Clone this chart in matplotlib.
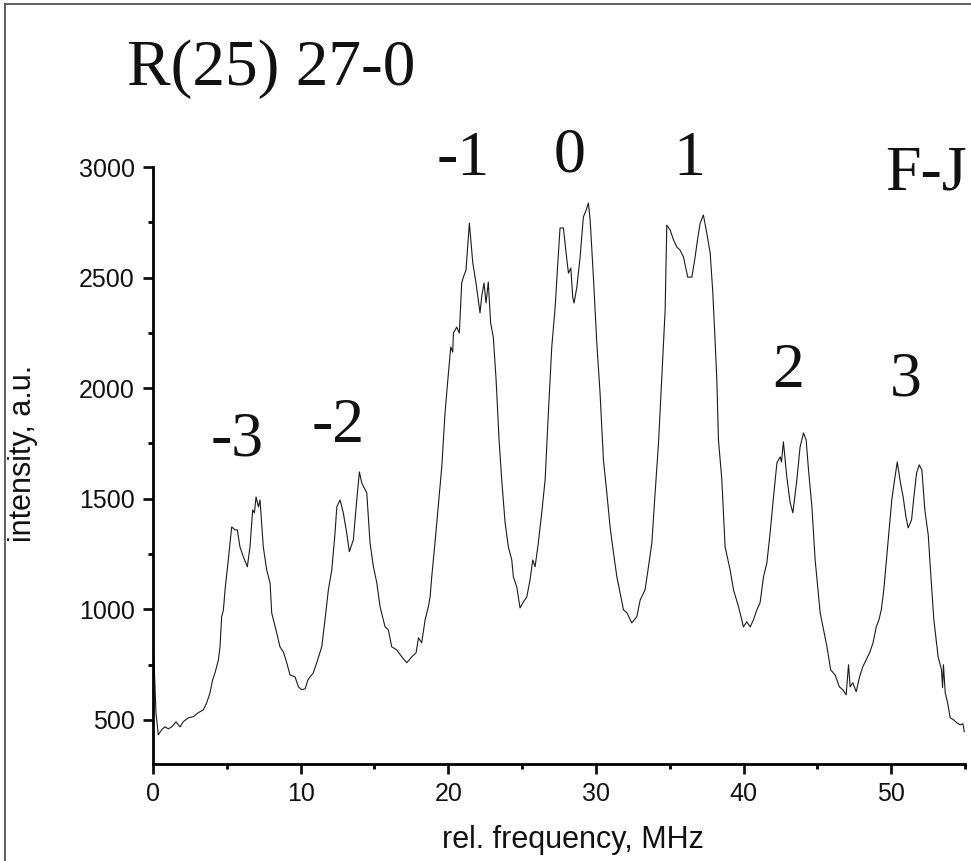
import numpy as np
import matplotlib
matplotlib.use("Agg")
import matplotlib.pyplot as plt
from matplotlib.lines import Line2D
from matplotlib.ticker import MultipleLocator

# spectrum: rel. frequency (MHz) and intensity (a.u.)
freq = [0.05, 0.2, 0.36, 0.59, 0.81, 1.04, 1.27, 1.56, 1.83, 2.05, 2.39, 2.73, 3.07, 3.41, 3.64,
        3.86, 4.04, 4.2, 4.43, 4.54, 4.65, 4.77, 4.88, 5.1, 5.33, 5.56, 5.71, 5.89, 6.12, 6.39,
        6.57, 6.75, 6.87, 6.98, 7.14, 7.25, 7.47, 7.7, 7.93, 8.04, 8.38, 8.6, 8.83, 9.06, 9.28,
        9.62, 9.85, 10.07, 10.3, 10.5, 10.64, 10.86, 11.09, 11.43, 11.65, 11.88, 12.11, 12.33,
        12.45, 12.67, 12.89, 13.12, 13.3, 13.57, 13.8, 13.98, 14.14, 14.48, 14.7, 14.93, 15.16,
        15.38, 15.72, 15.94, 16.17, 16.51, 16.85, 17.19, 17.53, 17.82, 17.98, 18.2, 18.43, 18.65,
        18.77, 18.88, 19.1, 19.33, 19.56, 19.78, 20.01, 20.17, 20.3, 20.35, 20.57, 20.75, 20.91,
        21.02, 21.2, 21.43, 21.66, 21.88, 22.15, 22.26, 22.42, 22.56, 22.71, 22.87, 23.05, 23.24,
        23.44, 23.62, 23.85, 24.07, 24.3, 24.41, 24.64, 24.86, 25.09, 25.32, 25.54, 25.72, 25.88,
        26.1, 26.33, 26.56, 26.78, 27.01, 27.24, 27.39, 27.57, 27.8, 27.98, 28.14, 28.3, 28.43,
        28.52, 28.71, 28.93, 29.15, 29.34, 29.49, 29.61, 29.83, 30.06, 30.28, 30.51, 30.74, 30.96,
        31.19, 31.42, 31.64, 31.87, 32.1, 32.43, 32.77, 33.0, 33.33, 33.56, 33.79, 34.01, 34.24,
        34.46, 34.69, 34.8, 35.03, 35.26, 35.48, 35.7, 35.93, 36.22, 36.5, 36.72, 36.88, 37.06,
        37.28, 37.51, 37.74, 37.92, 38.08, 38.19, 38.3, 38.53, 38.75, 39.09, 39.32, 39.66, 39.88,
        39.99, 40.22, 40.45, 40.67, 40.9, 41.12, 41.35, 41.58, 41.8, 42.03, 42.26, 42.48, 42.57,
        42.7, 42.93, 43.16, 43.34, 43.61, 43.83, 44.06, 44.24, 44.4, 44.63, 44.85, 45.19, 45.65,
        45.9, 46.2, 46.49, 46.72, 46.95, 47.11, 47.22, 47.4, 47.63, 47.86, 48.08, 48.31, 48.54,
        48.77, 48.99, 49.17, 49.33, 49.5, 49.68, 49.86, 50.04, 50.18, 50.41, 50.63, 50.81, 51.0,
        51.15, 51.38, 51.54, 51.72, 51.9, 52.08, 52.28, 52.51, 52.66, 52.89, 53.18, 53.41, 53.48,
        53.54, 53.66, 53.82, 54.0, 54.22, 54.45, 54.67, 54.86, 54.95]
intensity = [803, 532, 432, 455, 468, 459, 468, 491, 468, 491, 509, 514, 532, 545, 577,
             622, 681, 712, 771, 830, 966, 997, 1088, 1223, 1372, 1359, 1359, 1282, 1237, 1192,
             1282, 1449, 1436, 1508, 1463, 1494, 1282, 1178, 1119, 983, 893, 830, 807, 758, 703,
             694, 649, 636, 640, 681, 694, 712, 758, 830, 952, 1088, 1178, 1345,
             1463, 1494, 1436, 1345, 1260, 1314, 1494, 1621, 1571, 1526, 1300, 1192, 1119,
             1011, 920, 907, 830, 816, 785, 758, 785, 803, 871, 848, 952, 1011,
             1056, 1146, 1300, 1470, 1644, 1888, 2068, 2186, 2163, 2249, 2276, 2249, 2475,
             2502, 2534, 2746, 2566, 2475, 2340, 2412, 2475, 2385, 2480, 2294, 2231, 2037,
             1766, 1585, 1390, 1282, 1223, 1146, 1101, 1006, 1033, 1056, 1133, 1223, 1192,
             1300, 1436, 1585, 1888, 2186, 2367, 2534, 2724, 2724, 2611, 2520, 2543, 2412,
             2385, 2457, 2593, 2774, 2805, 2837, 2760, 2502, 2204, 1978, 1675, 1526, 1372,
             1255, 1146, 1074, 997, 984, 938, 966, 1042, 1088, 1192, 1300, 1526, 1752,
             2050, 2353, 2737, 2715, 2670, 2638, 2624, 2593, 2502, 2502, 2593, 2670, 2746,
             2783, 2701, 2611, 2430, 2204, 2037, 1766, 1585, 1282, 1178, 1088, 1011, 952,
             920, 943, 920, 952, 997, 1029, 1146, 1210, 1345, 1508, 1662, 1689, 1666,
             1757, 1598, 1481, 1436, 1585, 1734, 1797, 1766, 1630, 1463, 1223, 984, 830,
             726, 703, 649, 636, 613, 749, 649, 667, 627, 694, 740, 771, 803,
             848, 920, 952, 997, 1088, 1223, 1359, 1494, 1562, 1666, 1571, 1508, 1418,
             1368, 1404, 1508, 1616, 1653, 1630, 1449, 1336, 1178, 952, 785, 726, 645,
             749, 622, 577, 509, 500, 486, 477, 482, 446]

# F-J labels above the peaks
peak_labels = ["-3", "-2", "-1", "0", "1", "2", "3"]
title = "R(25) 27-0"

W, H = 971, 861
fig = plt.figure(figsize=(W / 100, H / 100), dpi=100)

def px(x, y):
    return x / W, 1 - y / H

ax = fig.add_axes([153 / W, 1 - 764 / H, (965 - 153) / W, (764 - 167) / H])
ax.plot(freq, intensity, color="#1a1a1a", lw=0.8)

ax.set_xlim(0, 55)
ax.set_ylim(300, 3000)
ax.xaxis.set_major_locator(MultipleLocator(10))
ax.xaxis.set_minor_locator(MultipleLocator(5))
ax.yaxis.set_major_locator(MultipleLocator(500))
ax.yaxis.set_minor_locator(MultipleLocator(250))
for s in ["top", "right"]:
    ax.spines[s].set_visible(False)
for s in ["left", "bottom"]:
    ax.spines[s].set_linewidth(2)
ax.tick_params(which="major", length=7, width=2, labelsize=18, pad=6,
               labelfontfamily="Liberation Sans", colors="#111111")
ax.tick_params(which="minor", length=3.5, width=2)

ax.set_xlabel("rel. frequency, MHz", fontsize=22, family="Liberation Sans", color="#111111")
ax.set_ylabel("intensity, a.u.", fontsize=22, family="Liberation Sans", color="#111111")
ax.xaxis.set_label_coords(0.517, -0.103)
ax.yaxis.set_label_coords(-0.142, 0.52)

serif = dict(family="Liberation Serif", color="#111111", ha="center", va="baseline")
fig.text(*px(127, 85), title, fontsize=47, family="Liberation Serif",
         color="#111111", ha="left", va="baseline")
label_pos = [(237, 455), (338, 442), (463, 175), (570, 171), (689, 175), (788, 387), (906, 395)]
for lab, (x, y) in zip(peak_labels, label_pos):
    fig.text(*px(x, y), lab, fontsize=46, **serif)
fig.text(*px(885, 190), "F-J", fontsize=46, family="Liberation Serif",
         color="#111111", ha="left", va="baseline")

# frame left and top, as in the scanned figure
fig.add_artist(Line2D([5 / W, 5 / W], [0, 1 - 4 / H], color="#444444", lw=1.2))
fig.add_artist(Line2D([5 / W, 1], [1 - 4 / H, 1 - 4 / H], color="#444444", lw=1.2))

fig.savefig("out.png", dpi=100)
